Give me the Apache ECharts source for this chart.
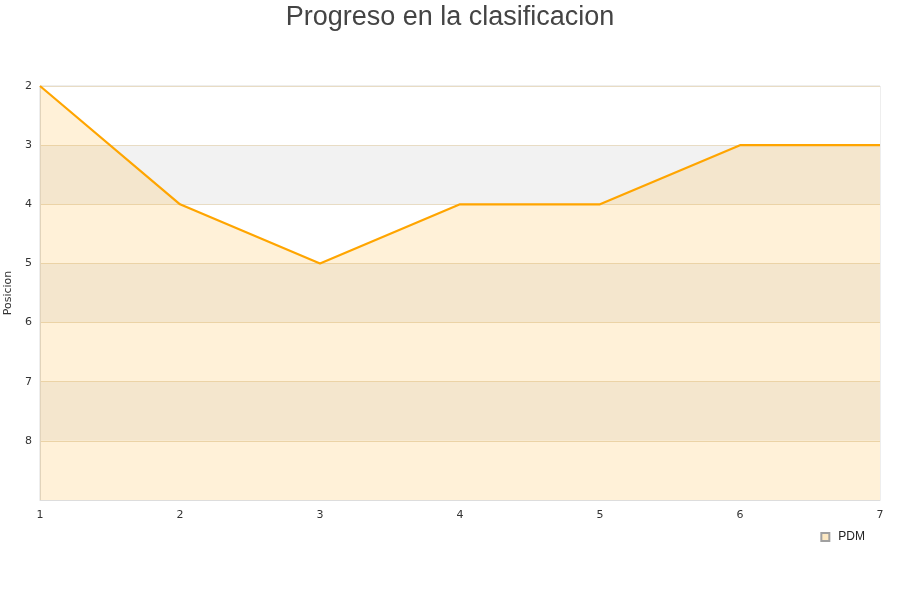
<!DOCTYPE html>
<html>
<head>
<meta charset="utf-8">
<script src="https://cdn.jsdelivr.net/npm/echarts@6/dist/echarts.min.js"></script>
<style>html,body{margin:0;padding:0;background:#fff}#c{width:900px;height:600px}</style>
</head>
<body>
<div id="c"></div>
<script>
var jornadas = ['1','2','3','4','5','6','7'];
var posiciones = [2, 4, 5, 4, 4, 3, 3];
var seriesName = 'PDM';
var titleText = 'Progreso en la clasificacion';
var yName = 'Posicion';

var chart = echarts.init(document.getElementById('c'));
chart.setOption({
  animation: false,
  title: {
    text: titleText, left: 'center', top: -1,
    textStyle: {fontFamily: 'Liberation Sans, Arial, sans-serif', fontSize: 27, fontWeight: 'normal', color: '#444'}
  },
  legend: {
    data: [{name: seriesName, icon: 'rect'}],
    right: 30, top: 526, itemWidth: 8, itemHeight: 8, itemGap: 8,
    textStyle: {fontFamily: 'Liberation Sans, Arial, sans-serif', fontSize: 12, color: '#222', padding: [0, 0, 0, 4]}
  },
  grid: {left: 40, right: 20, top: 86, bottom: 100, show: true, borderColor: '#ddd', borderWidth: 1,
    containLabel: false, outerBoundsMode: 'none'},
  xAxis: {
    type: 'category', data: jornadas, boundaryGap: false,
    axisLine: {show: true, lineStyle: {color: '#ddd'}},
    axisTick: {show: false},
    axisLabel: {color: '#333', fontSize: 11, fontFamily: 'DejaVu Sans, sans-serif', margin: 10},
    splitLine: {show: false}
  },
  yAxis: {
    type: 'value', inverse: true, min: 2, max: 9, interval: 1,
    name: yName, nameLocation: 'middle', nameGap: 23,
    nameTextStyle: {color: '#333', fontSize: 11, fontFamily: 'DejaVu Sans, sans-serif'},
    axisLine: {show: true, lineStyle: {color: '#ddd'}},
    axisTick: {show: false},
    axisLabel: {color: '#333', fontSize: 11, fontFamily: 'DejaVu Sans, sans-serif', margin: 8,
      formatter: function (v) { return v === 9 ? '' : String(v); }},
    splitLine: {show: true, lineStyle: {color: '#e8dcc4'}},
    splitArea: {show: true, areaStyle: {color: ['#ffffff', '#f2f2f2']}}
  },
  series: [{
    name: seriesName, type: 'line', data: posiciones,
    showSymbol: false, symbol: 'none',
    lineStyle: {color: '#ffa500', width: 2.2},
    itemStyle: {color: '#fde9c3', borderColor: '#a0a0a0', borderWidth: 1},
    areaStyle: {color: 'rgba(255,165,0,0.22)', origin: 'end'}
  }]
});
</script>
</body>
</html>
